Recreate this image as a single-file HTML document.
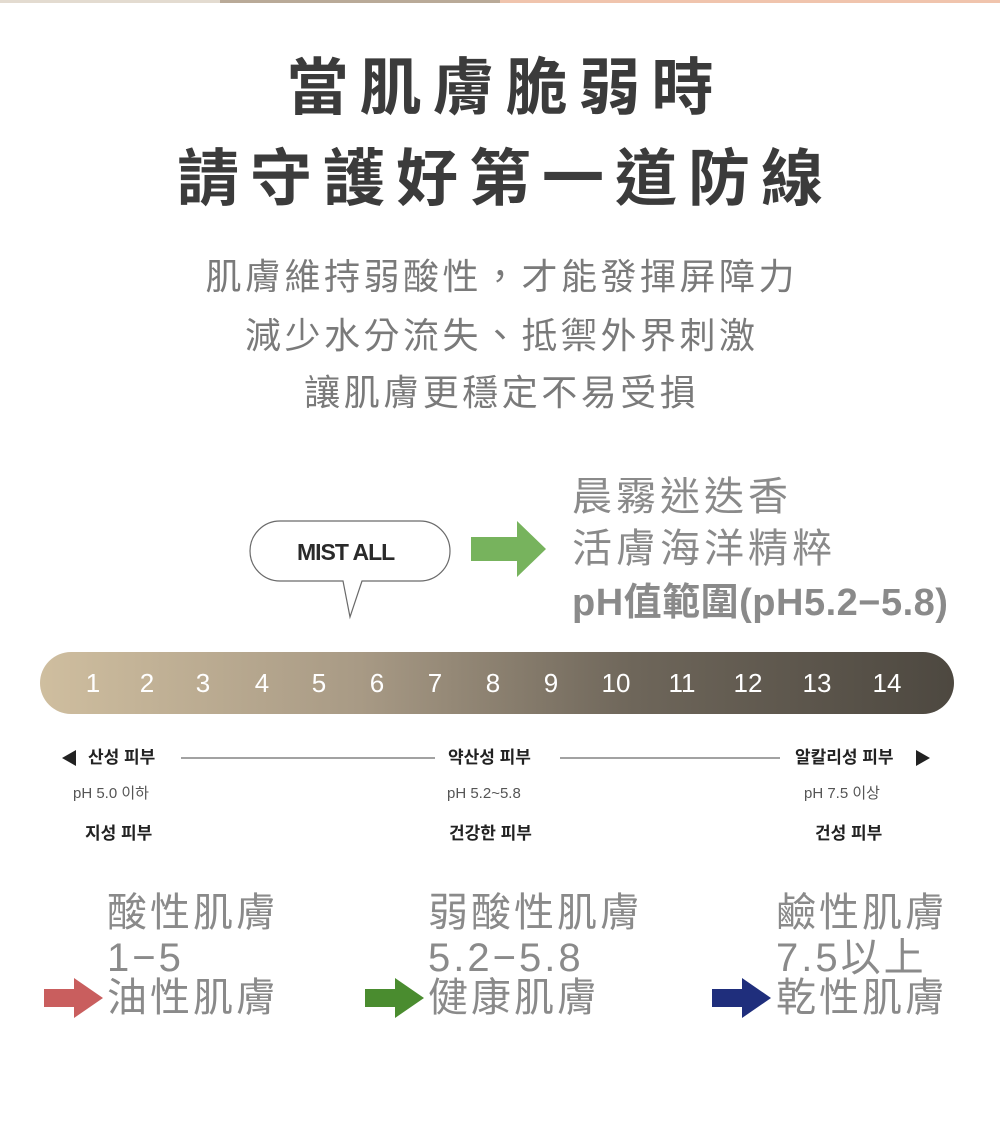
<!DOCTYPE html>
<html><head><meta charset="utf-8"><style>
body{margin:0;width:1000px;height:1134px;background:#fff;position:relative;overflow:hidden;font-family:"Liberation Sans","Noto Sans CJK TC",sans-serif}
.a{position:absolute;white-space:nowrap}
.t{font-family:"Liberation Sans","Noto Sans CJK TC",sans-serif;font-weight:bold;color:#3b3b3b;font-size:62px;line-height:1;left:0;width:1000px;text-align:center;letter-spacing:11px;text-indent:11px}
.s{color:#7a7a7a;font-size:36px;line-height:1;left:0;width:1000px;text-align:center;letter-spacing:3.5px;text-indent:3.5px}
.g{color:#8a8a8a;font-size:40px;line-height:1;letter-spacing:4px}
.b{color:#8a8a8a;font-size:40px;line-height:1;letter-spacing:3px}
.k{font-family:"Liberation Sans","Noto Sans CJK KR",sans-serif;font-size:17px;font-weight:bold;color:#222;line-height:1}
.p{font-family:"Liberation Sans","Noto Sans CJK KR",sans-serif;font-size:15px;color:#555;line-height:1}
.n{color:#fff;font-size:26px;top:670px;line-height:1;width:40px;text-align:center}
</style></head><body>
<div class="a" style="left:0;top:0;width:220px;height:3px;background:#e3dbd0"></div>
<div class="a" style="left:220px;top:0;width:280px;height:3px;background:#b9aa98"></div>
<div class="a" style="left:500px;top:0;width:500px;height:3px;background:#f0c4ad"></div>

<div class="a t" style="top:58px">當肌膚脆弱時</div>
<div class="a t" style="top:149px">請守護好第一道防線</div>
<div class="a s" style="top:259px">肌膚維持弱酸性，才能發揮屏障力</div>
<div class="a s" style="top:318px">減少水分流失、抵禦外界刺激</div>
<div class="a s" style="top:375px">讓肌膚更穩定不易受損</div>

<svg class="a" style="left:0;top:0" width="1000" height="1134">
<path d="M280 521 H420 A30 30 0 0 1 420 581 H362 L350 617 L343 581 H280 A30 30 0 0 1 280 521 Z" fill="#fff" stroke="#6a6a6a" stroke-width="1.2"/>
<polygon points="471,537 517,537 517,521 546,549 517,577 517,561 471,561" fill="#77b35d"/>
<defs><linearGradient id="gr" x1="0" x2="1"><stop offset="0" stop-color="#cfbe9f"/><stop offset="0.35" stop-color="#a89a85"/><stop offset="0.65" stop-color="#6e665a"/><stop offset="1" stop-color="#4d4840"/></linearGradient></defs>
<rect x="40" y="652" width="914" height="62" rx="31" fill="url(#gr)"/>
<polygon points="62,758 76,750 76,766" fill="#222"/>
<polygon points="930,758 916,750 916,766" fill="#222"/>
<line x1="181" y1="758" x2="435" y2="758" stroke="#444" stroke-width="1"/>
<line x1="560" y1="758" x2="780" y2="758" stroke="#444" stroke-width="1"/>
<polygon points="44,989 74,989 74,978 103,998 74,1018 74,1007 44,1007" fill="#c95e5e"/>
<polygon points="365,989 395,989 395,978 424,998 395,1018 395,1007 365,1007" fill="#4a8c2f"/>
<polygon points="712,989 742,989 742,978 771,998 742,1018 742,1007 712,1007" fill="#1f2e7c"/>
</svg>
<div class="a" style="left:297px;top:539px;font-size:23px;font-weight:bold;color:#2a2a2a;letter-spacing:-1px">MIST ALL</div>
<div class="a g" style="left:572px;top:477px">晨霧迷迭香</div>
<div class="a g" style="left:572px;top:529px">活膚海洋精粹</div>
<div class="a g" style="left:572px;top:584px;font-weight:bold;font-size:38px;letter-spacing:0.5px">pH值範圍(pH5.2−5.8)</div>

<div class="a n" style="left:73px">1</div><div class="a n" style="left:127px">2</div><div class="a n" style="left:183px">3</div><div class="a n" style="left:242px">4</div><div class="a n" style="left:299px">5</div><div class="a n" style="left:357px">6</div><div class="a n" style="left:415px">7</div><div class="a n" style="left:473px">8</div><div class="a n" style="left:531px">9</div><div class="a n" style="left:596px">10</div><div class="a n" style="left:662px">11</div><div class="a n" style="left:728px">12</div><div class="a n" style="left:797px">13</div><div class="a n" style="left:867px">14</div>

<div class="a k" style="left:88px;top:749px">산성 피부</div>
<div class="a k" style="left:448px;top:749px">약산성 피부</div>
<div class="a k" style="left:795px;top:749px">알칼리성 피부</div>
<div class="a p" style="left:73px;top:786px">pH 5.0 이하</div>
<div class="a p" style="left:447px;top:786px">pH 5.2~5.8</div>
<div class="a p" style="left:804px;top:786px">pH 7.5 이상</div>
<div class="a k" style="left:85px;top:825px">지성 피부</div>
<div class="a k" style="left:449px;top:825px">건강한 피부</div>
<div class="a k" style="left:815px;top:825px">건성 피부</div>

<div class="a b" style="left:107px;top:893px">酸性肌膚</div>
<div class="a b" style="left:107px;top:938px">1−5</div>
<div class="a b" style="left:107px;top:978px">油性肌膚</div>
<div class="a b" style="left:428px;top:893px">弱酸性肌膚</div>
<div class="a b" style="left:428px;top:938px">5.2−5.8</div>
<div class="a b" style="left:428px;top:978px">健康肌膚</div>
<div class="a b" style="left:776px;top:893px">鹼性肌膚</div>
<div class="a b" style="left:776px;top:938px">7.5以上</div>
<div class="a b" style="left:776px;top:978px">乾性肌膚</div>
</body></html>
